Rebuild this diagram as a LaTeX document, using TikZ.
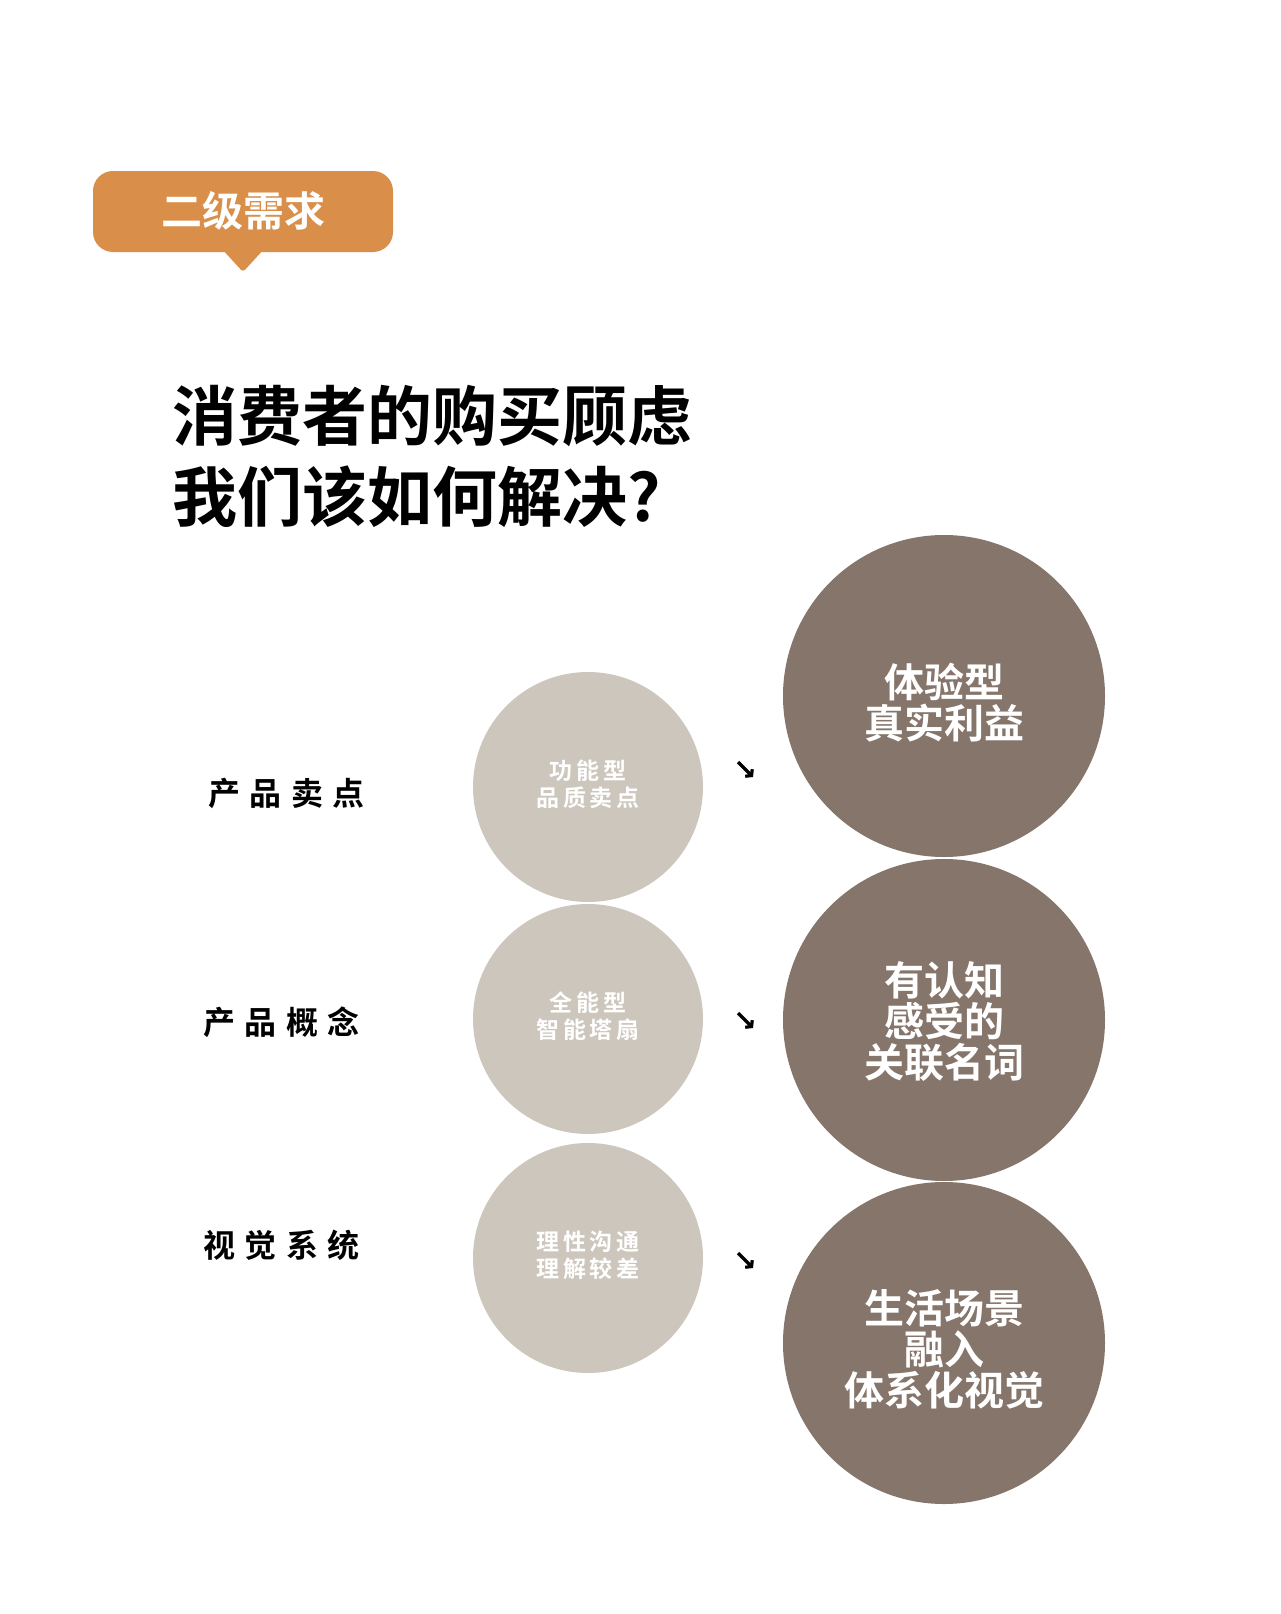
\documentclass[tikz,border=0pt]{standalone}
\usepackage{fontspec}
\setmainfont{Noto Sans CJK SC}[BoldFont=* Bold]
\newfontfamily\labelfont{Noto Sans CJK SC}[BoldFont=* Bold, LetterSpace=30]
\newfontfamily\smallfont{Noto Sans CJK SC}[BoldFont=* Bold, LetterSpace=16]
\usetikzlibrary{shapes, arrows.meta}

\definecolor{tagorange}{HTML}{D98F49}
\definecolor{lightstone}{HTML}{CCC6BD}
\definecolor{darkstone}{HTML}{85756B}

\begin{document}
\begin{tikzpicture}[x=1pt, y=-1pt,
    tag/.style={text=white, font=\bfseries\fontsize{41}{41}\selectfont},
    title/.style={anchor=west, inner sep=0pt, font=\bfseries\fontsize{65}{65}\selectfont},
    rowlabel/.style={anchor=west, inner sep=0pt, font=\labelfont\bfseries\fontsize{32}{32}\selectfont},
    smallball/.style={circle, fill=lightstone, minimum size=230pt},
    bigball/.style={circle, fill=darkstone, minimum size=322pt},
    smalltext/.style={text=white, align=center, font=\smallfont\bfseries\fontsize{23}{27}\selectfont},
    bigtext/.style={text=white, align=center, font=\bfseries\fontsize{40}{41}\selectfont},
    turn/.style={line width=3.2pt, -{Straight Barb[length=4pt, width=10pt]}}]
    %\draw[help lines, step=100] (0, 0) grid (1280, 1614);

    \useasboundingbox[fill=white] (0, 0) rectangle (1280, 1614);

    \fill[tagorange, rounded corners=20] (93, 171) rectangle (393, 252);
    \fill[tagorange, rounded corners=3] (221, 248) -- (243, 272) -- (265, 248) -- cycle;
    \node[tag] (tag) at (243, 211) {二级需求};

    \node[title] (q1) at (172, 416) {消费者的购买顾虑};
    \node[title] (q2) at (172, 497) {我们该如何解决?};

    \node[rowlabel] (r1) at (208, 793) {产品卖点};
    \node[rowlabel] (r2) at (203, 1022) {产品概念};
    \node[rowlabel] (r3) at (203, 1245) {视觉系统};

    \node[smallball] (s1) at (588, 787) {};
    \node[smallball] (s2) at (588, 1019) {};
    \node[smallball] (s3) at (588, 1258) {};
    \node[smalltext] at ([yshift=3pt]s1.center) {功能型\\品质卖点};
    \node[smalltext] at ([yshift=3pt]s2.center) {全能型\\智能塔扇};
    \node[smalltext] at ([yshift=3pt]s3.center) {理性沟通\\理解较差};

    \node[bigball] (b1) at (944, 696) {};
    \node[bigball] (b2) at (944, 1020) {};
    \node[bigball] (b3) at (944, 1343) {};
    \node[bigtext] at ([yshift=-7pt]b1.center) {体验型\\真实利益};
    \node[bigtext] at ([yshift=-2pt]b2.center) {有认知\\感受的\\关联名词};
    \node[bigtext] at ([yshift=-6pt]b3.center) {生活场景\\融入\\体系化视觉};

    \coordinate (t1a) at (738, 762);
    \coordinate (t1b) at (753, 777);
    \coordinate (t2a) at (738, 1013);
    \coordinate (t2b) at (753, 1028);
    \coordinate (t3a) at (738, 1253);
    \coordinate (t3b) at (753, 1268);
    \draw[turn] (t1a) -- (t1b);
    \draw[turn] (t2a) -- (t2b);
    \draw[turn] (t3a) -- (t3b);

  \end{tikzpicture}
\end{document}
